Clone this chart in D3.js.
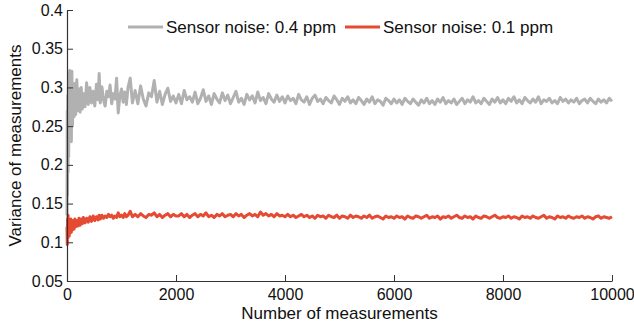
<!DOCTYPE html>
<html>
<head>
<meta charset="utf-8">
<script src="https://cdn.jsdelivr.net/npm/d3@7"></script>
<style>
body { margin: 0; background: #fff; }
svg { display: block; font-family: "Liberation Sans", Arial, Helvetica, sans-serif; }
.axis path, .axis line { stroke: #333; }
.axis text { font-size: 16px; fill: #111; }
</style>
</head>
<body>
<svg width="634" height="330"></svg>
<script>
// number of measurements (x): dense at the start, then every 50 measurements
let xsEarly = [0, 5, 10, 15, 20, 25, 30, 40, 50, 60, 70, 80, 90, 100, 115, 130, 145, 160, 180, 200,
    220, 240, 260, 280, 300, 330, 360, 390, 420, 450, 480, 510, 540, 570, 590,
    610, 640, 670, 700, 730, 760, 790, 820, 850, 880, 910, 940, 970, 1000, 1030, 1060, 1090, 1120,
    1160, 1200,
    1250, 1300, 1350, 1400, 1450, 1500, 1550, 1600, 1650, 1700, 1750, 1800, 1850, 1900, 1950, 2000];
let xs = xsEarly.concat(d3.range(2050, 10001, 50));

// variance, sensor noise 0.4 ppm
let noise04 = [0.135, 0.27, 0.16, 0.29, 0.19, 0.30, 0.21, 0.31, 0.322, 0.24, 0.30, 0.23, 0.321, 0.25, 0.30, 0.262, 0.305, 0.265, 0.31, 0.27,
    0.298, 0.268, 0.30, 0.272, 0.292, 0.275, 0.306, 0.278, 0.30, 0.28, 0.295, 0.276, 0.304, 0.284, 0.318,
    0.28, 0.301, 0.284, 0.276, 0.295, 0.288, 0.303, 0.279, 0.292, 0.285, 0.312, 0.267, 0.289, 0.298, 0.281, 0.294, 0.278, 0.30,
    0.312, 0.28,
    0.296, 0.279, 0.302, 0.285, 0.276, 0.293, 0.288, 0.309, 0.281, 0.295, 0.278, 0.291, 0.299, 0.282, 0.289, 0.280,
    // 2050 - 4000
    0.291, 0.279, 0.296, 0.284, 0.288, 0.281, 0.294, 0.279, 0.286, 0.297,
    0.282, 0.289, 0.278, 0.292, 0.285, 0.280, 0.293, 0.283, 0.290, 0.279,
    0.287, 0.295, 0.281, 0.286, 0.278, 0.291, 0.284, 0.289, 0.280, 0.294,
    0.283, 0.287, 0.279, 0.292, 0.285, 0.281, 0.290, 0.282, 0.288, 0.280,
    // 4050 - 6000
    0.289, 0.283, 0.286, 0.279, 0.291, 0.284, 0.281, 0.288, 0.278, 0.286,
    0.290, 0.282, 0.285, 0.279, 0.287, 0.283, 0.280, 0.289, 0.284, 0.278,
    0.286, 0.282, 0.288, 0.280, 0.284, 0.279, 0.287, 0.283, 0.278, 0.285,
    0.281, 0.288, 0.279, 0.284, 0.282, 0.277, 0.286, 0.283, 0.279, 0.285,
    // 6050 - 8000
    0.280, 0.284, 0.278, 0.286, 0.282, 0.279, 0.285, 0.281, 0.277, 0.284,
    0.280, 0.286, 0.279, 0.283, 0.278, 0.285, 0.281, 0.287, 0.279, 0.283,
    0.280, 0.285, 0.278, 0.282, 0.286, 0.279, 0.284, 0.281, 0.288, 0.280,
    0.283, 0.279, 0.286, 0.282, 0.278, 0.285, 0.281, 0.287, 0.280, 0.284,
    // 8050 - 10000
    0.279, 0.286, 0.282, 0.288, 0.280, 0.284, 0.279, 0.287, 0.283, 0.280,
    0.285, 0.281, 0.288, 0.279, 0.284, 0.282, 0.286, 0.280, 0.283, 0.279,
    0.287, 0.282, 0.285, 0.280, 0.284, 0.281, 0.286, 0.279, 0.283, 0.285,
    0.280, 0.286, 0.282, 0.279, 0.285, 0.281, 0.284, 0.280, 0.286, 0.282];

// variance, sensor noise 0.1 ppm
let noise01 = [0.12, 0.097, 0.13, 0.105, 0.135, 0.11, 0.128, 0.108, 0.125, 0.112, 0.13, 0.113, 0.127, 0.116, 0.128, 0.117, 0.13, 0.12, 0.128, 0.121,
    0.131, 0.122, 0.13, 0.124, 0.132, 0.125, 0.131, 0.126, 0.133, 0.127, 0.134, 0.128, 0.133, 0.129, 0.135,
    0.13, 0.135, 0.131, 0.134, 0.132, 0.136, 0.133, 0.135, 0.131, 0.134, 0.132, 0.138, 0.133, 0.135, 0.132, 0.137, 0.133, 0.135,
    0.14, 0.133,
    0.136, 0.133, 0.137, 0.134, 0.132, 0.136, 0.135, 0.138, 0.133, 0.136, 0.132, 0.135, 0.137, 0.133, 0.136, 0.134,
    // 2050 - 4000
    0.134, 0.137, 0.133, 0.136, 0.132, 0.135, 0.137, 0.133, 0.136, 0.134,
    0.138, 0.133, 0.135, 0.132, 0.136, 0.134, 0.137, 0.133, 0.135, 0.136,
    0.133, 0.137, 0.134, 0.136, 0.132, 0.135, 0.137, 0.134, 0.136, 0.133,
    0.139, 0.135, 0.137, 0.134, 0.136, 0.133, 0.137, 0.134, 0.135, 0.133,
    // 4050 - 6000
    0.136, 0.133, 0.135, 0.132, 0.134, 0.136, 0.133, 0.135, 0.132, 0.134,
    0.131, 0.135, 0.133, 0.134, 0.131, 0.135, 0.133, 0.132, 0.135, 0.131,
    0.134, 0.133, 0.131, 0.135, 0.132, 0.134, 0.133, 0.131, 0.134, 0.132,
    0.135, 0.131, 0.133, 0.134, 0.132, 0.130, 0.134, 0.132, 0.133, 0.131,
    // 6050 - 8000
    0.134, 0.132, 0.133, 0.130, 0.134, 0.132, 0.131, 0.134, 0.133, 0.131,
    0.133, 0.135, 0.131, 0.133, 0.132, 0.134, 0.130, 0.133, 0.132, 0.134,
    0.131, 0.133, 0.135, 0.132, 0.131, 0.134, 0.132, 0.133, 0.130, 0.134,
    0.132, 0.131, 0.134, 0.133, 0.131, 0.133, 0.135, 0.132, 0.131, 0.133,
    // 8050 - 10000
    0.132, 0.134, 0.131, 0.133, 0.132, 0.130, 0.134, 0.132, 0.133, 0.131,
    0.134, 0.132, 0.131, 0.133, 0.135, 0.131, 0.133, 0.132, 0.130, 0.134,
    0.132, 0.133, 0.131, 0.134, 0.132, 0.131, 0.133, 0.132, 0.134, 0.131,
    0.133, 0.132, 0.130, 0.133, 0.134, 0.131, 0.133, 0.132, 0.131, 0.133];

let xTicks = [0, 2000, 4000, 6000, 8000, 10000];
let yTicks = [0.05, 0.1, 0.15, 0.2, 0.25, 0.3, 0.35, 0.4];

if (noise04.length !== xs.length || noise01.length !== xs.length) {
    console.log("length mismatch", xs.length, noise04.length, noise01.length);
}

let series = [
    {name: "Sensor noise: 0.4 ppm", values: noise04, color: "#b1b1b1"},
    {name: "Sensor noise: 0.1 ppm", values: noise01, color: "#e54a33"}
];

let svg = d3.select("svg"),
    margin = {top: 10, right: 22, bottom: 49, left: 67},
    width = +svg.attr("width") - margin.left - margin.right,
    height = +svg.attr("height") - margin.top - margin.bottom;

let x = d3.scaleLinear().domain([0, 10000]).range([0, width]),
    y = d3.scaleLinear().domain([0.05, 0.4]).range([height, 0]);

let g = svg.append("g")
    .attr("transform", "translate(" + margin.left + "," + margin.top + ")");

let line = d3.line()
    .defined(function (d) { return d != null; })
    .x(function (d, i) { return x(xs[i]); })
    .y(function (d) { return y(d); });

g.selectAll(".series")
    .data(series)
    .enter().append("path")
    .attr("class", "series")
    .attr("fill", "none")
    .attr("stroke", function (d) { return d.color; })
    .attr("stroke-width", 3)
    .attr("stroke-linejoin", "round")
    .attr("d", function (d) { return line(d.values); });

g.append("g")
    .attr("class", "axis axis--x")
    .attr("transform", "translate(0," + height + ")")
    .call(d3.axisBottom(x).tickValues(xTicks).tickFormat(d3.format("d"))
        .tickSizeInner(-6).tickSizeOuter(0).tickPadding(8));

g.append("g")
    .attr("class", "axis axis--y")
    .call(d3.axisLeft(y).tickValues(yTicks).tickFormat(function (d) { return String(+d.toFixed(2)); })
        .tickSizeInner(-6).tickSizeOuter(0).tickPadding(4));

g.selectAll(".axis path").attr("stroke-width", 1.2);

// axis titles
svg.append("text")
    .attr("x", margin.left + width / 2)
    .attr("y", 319)
    .attr("text-anchor", "middle")
    .attr("font-size", 17)
    .attr("fill", "#111")
    .text("Number of measurements");

svg.append("text")
    .attr("transform", "translate(21," + (margin.top + height / 2) + ") rotate(-90)")
    .attr("text-anchor", "middle")
    .attr("font-size", 17)
    .attr("fill", "#111")
    .text("Variance of measurements");

// legend
let legendX = [128, 345];
let legend = svg.selectAll(".legend")
    .data(series)
    .enter().append("g")
    .attr("class", "legend")
    .attr("transform", function (d, i) { return "translate(" + legendX[i] + ",27)"; });

legend.append("line")
    .attr("x1", 0).attr("x2", 35)
    .attr("stroke", function (d) { return d.color; })
    .attr("stroke-width", 3);

legend.append("text")
    .attr("x", 38)
    .attr("y", 6)
    .attr("font-size", 17)
    .attr("fill", "#111")
    .text(function (d) { return d.name; });
</script>
</body>
</html>
